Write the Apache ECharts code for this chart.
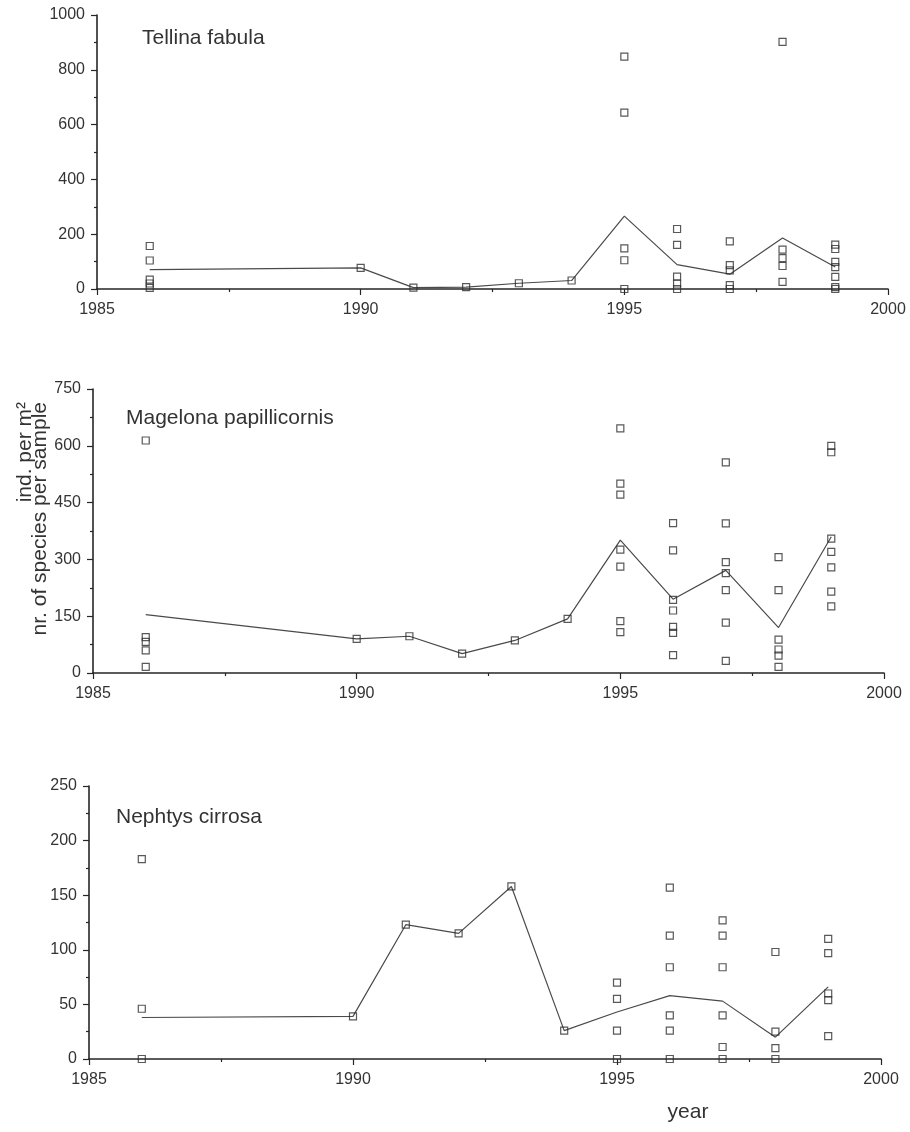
<!DOCTYPE html>
<html>
<head>
<meta charset="utf-8">
<title>Benthic species abundance 1986–1999</title>
<script src="https://cdn.jsdelivr.net/npm/echarts@6/dist/echarts.min.js"></script>
<style>
  html, body { margin: 0; padding: 0; background: #ffffff; }
  #chart { width: 910px; height: 1132px; }
</style>
</head>
<body>
<div id="chart"></div>
<script>
// Sampling years shared by all three species panels
const years = [1986, 1990, 1991, 1992, 1993, 1994, 1995, 1996, 1997, 1998, 1999];

// x-axis range and tick step (years)
const yearMin = 1985;
const yearMax = 2000;
const yearStep = 5;

// Tellina fabula: yearly mean (line) and individual samples (squares)
const tellinaMean = [71, 77, 5, 7, 21, 31, 266, 89, 54, 186, 80];
const tellinaSamples = [
  [157, 104, 34, 20, 4],
  [77],
  [5],
  [7],
  [21],
  [31],
  [848, 644, 148, 105, 0],
  [219, 161, 45, 20, 0],
  [174, 87, 68, 14, 0],
  [902, 144, 113, 84, 26],
  [162, 146, 99, 80, 44, 7, 0]
];
const tellinaAxis = { max: 1000, step: 200 };

// Magelona papillicornis
const magelonaMean = [154, 90, 97, 51, 86, 143, 351, 195, 271, 120, 360];
const magelonaSamples = [
  [614, 95, 82, 60, 16],
  [90],
  [97],
  [51],
  [86],
  [143],
  [646, 500, 471, 326, 281, 137, 108],
  [396, 324, 193, 165, 122, 106, 47],
  [556, 395, 293, 264, 219, 133, 32],
  [306, 219, 88, 62, 46, 16],
  [600, 583, 355, 320, 279, 215, 176]
];
const magelonaAxis = { max: 750, step: 150 };

// Nephtys cirrosa
const nephtysMean = [38, 39, 123, 115, 158, 26, 43, 58, 53, 20, 66];
const nephtysSamples = [
  [183, 46, 0],
  [39],
  [123],
  [115],
  [158],
  [26],
  [70, 55, 26, 0],
  [157, 113, 84, 40, 26, 0],
  [127, 113, 84, 40, 11, 0],
  [98, 25, 10, 0],
  [110, 97, 60, 54, 21]
];
const nephtysAxis = { max: 250, step: 50 };

const panelNames = ['Tellina fabula', 'Magelona papillicornis', 'Nephtys cirrosa'];
const yTitleLines = ['ind. per m²', 'nr. of species per sample'];
const xTitle = 'year';

const panels = [
  { mean: tellinaMean, samples: tellinaSamples, axis: tellinaAxis },
  { mean: magelonaMean, samples: magelonaSamples, axis: magelonaAxis },
  { mean: nephtysMean, samples: nephtysSamples, axis: nephtysAxis }
];

// Plot-area placement of each panel
const grids = [
  { left: 97, top: 15, width: 791, height: 274 },
  { left: 93, top: 389, width: 791, height: 284 },
  { left: 89, top: 786, width: 792, height: 273 }
];

const ink = '#262626';
const textInk = '#333333';
const sansFamily = '"Liberation Sans", Arial, sans-serif';

function meanPoints(mean) {
  return years.map((y, i) => [y, mean[i]]);
}

function samplePoints(samples) {
  const pts = [];
  years.forEach((y, i) => samples[i].forEach(v => pts.push([y, v])));
  return pts;
}

// plain integers, no thousands separator
const plainNumber = v => String(v);

const xAxes = grids.map((g, i) => ({
  type: 'value',
  gridIndex: i,
  min: yearMin,
  max: yearMax,
  interval: yearStep,
  axisLine: { show: true, onZero: false, lineStyle: { color: ink, width: 1.6 } },
  axisTick: { show: true, length: 6, lineStyle: { color: ink, width: 1.2 } },
  minorTick: { show: true, splitNumber: 2, length: 3, lineStyle: { color: ink, width: 1.2 } },
  splitLine: { show: false },
  minorSplitLine: { show: false },
  axisLabel: {
    margin: 13,
    fontSize: 16,
    fontFamily: sansFamily,
    color: textInk,
    formatter: plainNumber
  }
}));

const yAxes = panels.map((p, i) => ({
  type: 'value',
  gridIndex: i,
  min: 0,
  max: p.axis.max,
  interval: p.axis.step,
  axisLine: { show: true, lineStyle: { color: ink, width: 1.6 } },
  axisTick: { show: true, length: 6, lineStyle: { color: ink, width: 1.2 } },
  minorTick: { show: true, splitNumber: 2, length: 3, lineStyle: { color: ink, width: 1.2 } },
  splitLine: { show: false },
  minorSplitLine: { show: false },
  axisLabel: {
    margin: 12,
    fontSize: 16,
    fontFamily: sansFamily,
    color: textInk,
    formatter: plainNumber
  }
}));

const series = [];
panels.forEach((p, i) => {
  series.push({
    type: 'line',
    xAxisIndex: i,
    yAxisIndex: i,
    data: meanPoints(p.mean),
    symbol: 'none',
    lineStyle: { color: '#4a4a4a', width: 1.2 },
    z: 2,
    silent: true
  });
  series.push({
    type: 'scatter',
    xAxisIndex: i,
    yAxisIndex: i,
    data: samplePoints(p.samples),
    symbol: 'rect',
    symbolSize: 7,
    itemStyle: { color: 'rgba(255,255,255,0)', borderColor: '#2e2e2e', borderWidth: 1.2 },
    z: 3,
    silent: true
  });
});

const titleFont = '21px ' + sansFamily;
const nameAnchors = [
  { x: 142, y: 38 },
  { x: 126, y: 418 },
  { x: 116, y: 817 }
];

const graphics = panelNames.map((name, i) => ({
  type: 'text',
  x: nameAnchors[i].x,
  y: nameAnchors[i].y,
  style: {
    text: name,
    font: titleFont,
    fill: textInk,
    textAlign: 'left',
    textVerticalAlign: 'middle'
  }
}));

// Rotated y-axis title, both lines ending at the same height
[25, 40].forEach((x, i) => {
  graphics.push({
    type: 'text',
    x: x,
    y: 402,
    rotation: Math.PI / 2,
    style: {
      text: yTitleLines[i],
      font: titleFont,
      fill: textInk,
      textAlign: 'right',
      textVerticalAlign: 'middle'
    }
  });
});

graphics.push({
  type: 'text',
  x: 688,
  y: 1112,
  style: {
    text: xTitle,
    font: titleFont,
    fill: textInk,
    textAlign: 'center',
    textVerticalAlign: 'middle'
  }
});

const chart = echarts.init(document.getElementById('chart'), null, { renderer: 'canvas' });
chart.setOption({
  backgroundColor: '#ffffff',
  animation: false,
  grid: grids.map(g => Object.assign({ containLabel: false, outerBoundsMode: 'none' }, g)),
  xAxis: xAxes,
  yAxis: yAxes,
  series: series,
  graphic: graphics
});
</script>
</body>
</html>
